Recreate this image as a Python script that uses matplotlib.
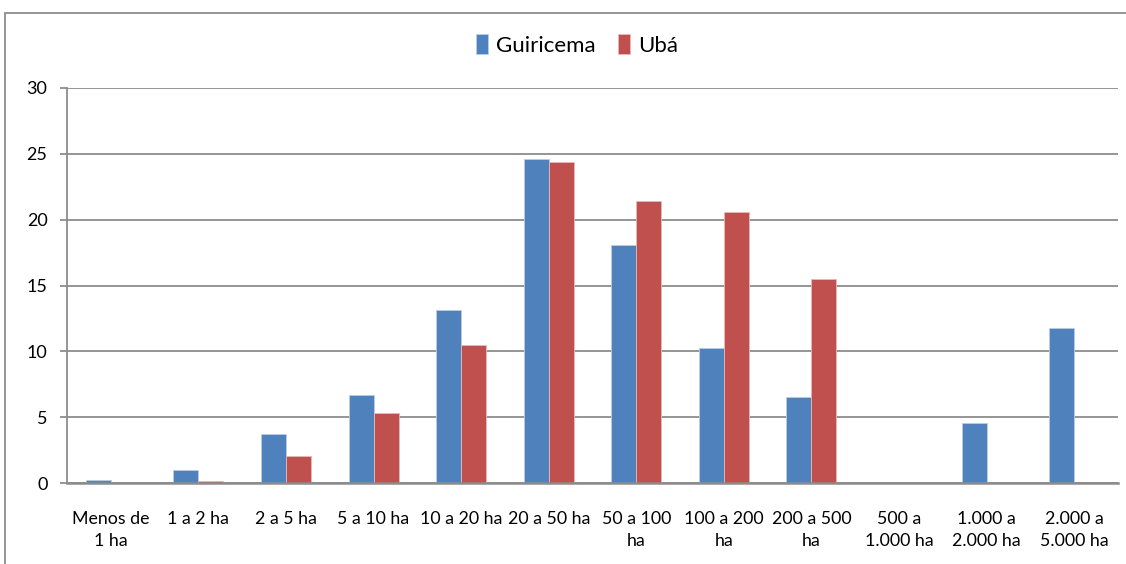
import matplotlib
matplotlib.use("Agg")
import matplotlib.pyplot as plt
import numpy as np
from matplotlib.patches import Rectangle

categories = ["Menos de\n1 ha", "1 a 2 ha", "2 a 5 ha", "5 a 10 ha", "10 a 20 ha",
              "20 a 50 ha", "50 a 100\nha", "100 a 200\nha", "200 a 500\nha",
              "500 a\n1.000 ha", "1.000 a\n2.000 ha", "2.000 a\n5.000 ha"]
guiricema = [0.25, 0.95, 3.75, 6.65, 13.15, 24.6, 18.05, 10.25, 6.5, 0, 4.55, 11.75]
uba = [0, 0.15, 2.05, 5.3, 10.45, 24.4, 21.45, 20.55, 15.5, 0, 0, 0]
yticks = [0, 5, 10, 15, 20, 25, 30]

plt.rcParams['font.family'] = ['Lato', 'DejaVu Sans']

fig = plt.figure(figsize=(11.26, 5.64), dpi=100)
ax = fig.add_axes([67/1126, 1-483/564, (1118-67)/1126, (483-88)/564])

x = np.arange(len(categories))
w = 0.2857
g_mask = np.array(guiricema) > 0
u_mask = np.array(uba) > 0
ax.bar(x[g_mask] - w/2, np.array(guiricema)[g_mask], w, color="#4F81BD", edgecolor="#B9CDE5",
       linewidth=0.6, label="Guiricema", zorder=3)
ax.bar(x[u_mask] + w/2, np.array(uba)[u_mask], w, color="#C0504D", edgecolor="#E6B9B8",
       linewidth=0.6, label="Ubá", zorder=3)

ax.set_xlim(-0.5, len(categories) - 0.5)
ax.set_ylim(0, 30)
ax.set_yticks(yticks)
ax.yaxis.grid(True, color="#8C8C8C", linewidth=1.3, zorder=0)
ax.set_axisbelow(True)
for s in ["top", "right"]:
    ax.spines[s].set_visible(False)
ax.spines["left"].set_color("#8C8C8C")
ax.spines["left"].set_linewidth(1.3)
ax.spines["bottom"].set_color("#8C8C8C")
ax.spines["bottom"].set_linewidth(1.8)
ax.spines["bottom"].set_zorder(4)
ax.set_xticks(x)
ax.set_xticklabels(categories, fontsize=12.8, linespacing=1.45)
ax.tick_params(axis="x", length=0, pad=20)
ax.tick_params(axis="y", length=5, color="#8C8C8C", width=1.3, labelsize=13, pad=9)

leg = fig.legend(loc="center", bbox_to_anchor=(577/1126, 1-45/564), ncol=2, frameon=False,
                 fontsize=16, handlelength=0.55, handleheight=1.0, handletextpad=0.35,
                 columnspacing=1.0)

fig.patches.append(Rectangle((5/1126, -0.1), 1.2, 1 - 13/564 + 0.1, transform=fig.transFigure,
                             fill=False, edgecolor="#8C8C8C", linewidth=1.3))

fig.savefig("out.png", dpi=100)
